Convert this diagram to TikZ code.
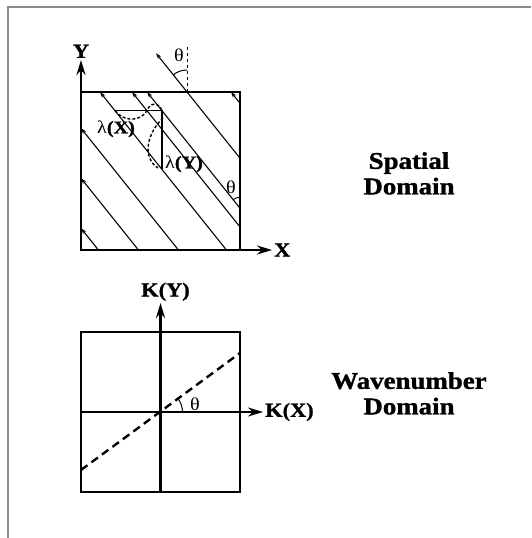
\documentclass[tikz,border=0pt]{standalone}
\usepackage{fontspec}
\setmainfont{Liberation Serif}[FakeStretch=1.12,BoldFeatures={FakeBold=1.2}]
\usetikzlibrary{arrows.meta}

\begin{document}
\begin{tikzpicture}[x=1pt,y=1pt,
  axis/.style={line width=2.4pt,-{Stealth[length=15pt,width=9pt]}},
  boxline/.style={line width=2.4pt},
  wave/.style={line width=1.1pt,{Stealth[length=6pt,width=4pt]}-},
  big/.style={font=\fontsize{24}{25.5}\selectfont\bfseries,align=center,inner sep=0pt},
  axlbl/.style={font=\fontsize{20}{22}\selectfont\bfseries,inner sep=1pt},
  greek/.style={font=\fontsize{18}{20}\selectfont,inner sep=0pt}]
\useasboundingbox (0,0) rectangle (531,538);
\draw[black!45,line width=1.3pt](8,0)--(8,531)--(531,531);
\coordinate (o) at (81,288);
\draw[boxline](o) rectangle (240,446);
\draw[axis](o)--(81,478)node[above,axlbl](ylbl){Y};
\draw[axis](o)--(272,288)node[right,axlbl](xlbl){X};
\foreach \xa/\ya/\xb/\yb in {81/309.75/98.4/288,81/359.75/138.4/288,81/409.75/178.4/288,
  100/446/226.4/288,132/446/240/311,147/446/240/329.75,156/484.75/240/379.75,231/446/240/434.75}
  \draw[wave](\xa,\ya)--(\xb,\yb);
\draw[dashed,line width=1pt](187,446)--(187,491);
\draw[line width=1pt](187,468)arc[start angle=90,end angle=128.66,radius=22];
\node[greek](thtop) at (179,483){θ};
\draw[line width=1pt](240,340.75)arc[start angle=90,end angle=128.66,radius=11];
\node[greek](thright) at (231,351){θ};
\coordinate (la) at (115,427.3);
\coordinate (lb) at (162,427.3);
\coordinate (lc) at (162,368.5);
\draw[line width=1.6pt](la)--(lb)--(lc);
\draw[line width=1.4pt,dash pattern=on 3pt off 2pt](la) .. controls (124,416) and (140,416) .. (147,427.3)
  .. controls (150,436) and (159,436) .. (lb);
\draw[line width=1.4pt,dash pattern=on 3pt off 2pt](163,420) .. controls (148,406) and (141,381) .. (158,370);
\node[greek](lamx) at (116,409){λ\textbf{(X)}};
\node[greek](lamy) at (184,374){λ\textbf{(Y)}};
\node[big,anchor=north](spatial) at (409,386){Spatial\\Domain};
\coordinate (c) at (160.5,126);
\draw[boxline](81,46) rectangle (240,206);
\draw[axis](160.5,46)--(160.5,235)node[above,axlbl,xshift=5pt](kylbl){K(Y)};
\draw[axis](81,126)--(263,126)node[right,axlbl](kxlbl){K(X)};
\draw[line width=2.4pt,dash pattern=on 8pt off 5pt](81,68)--(240,185);
\draw[line width=1pt](182.5,126)arc[start angle=0,end angle=36.3,radius=22];
\node[greek](thlow) at (195,134){θ};
\node[big,anchor=north](wavenum) at (409,166){Wavenumber\\Domain};
\end{tikzpicture}
\end{document}
